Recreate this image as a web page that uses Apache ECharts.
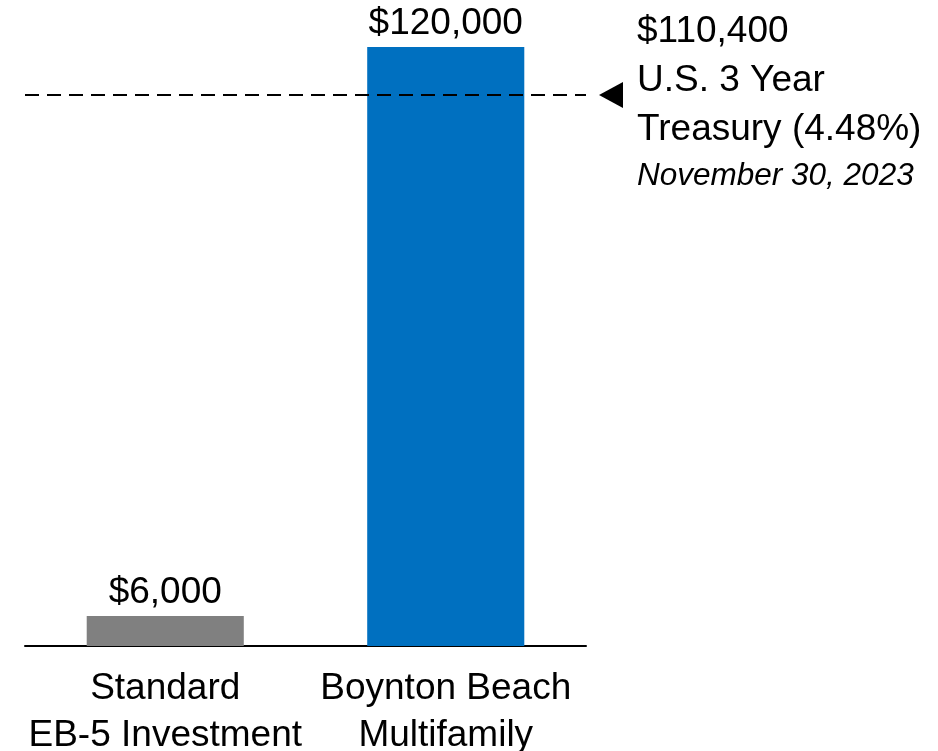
<!DOCTYPE html>
<html>
<head>
<meta charset="utf-8">
<script src="https://cdn.jsdelivr.net/npm/echarts@6/dist/echarts.min.js"></script>
<style>
  html, body { margin: 0; padding: 0; background: #fff; }
  #chart { width: 938px; height: 751px; }
</style>
</head>
<body>
<div id="chart"></div>
<script>
// categories and values
const categories = ["Standard\nEB-5 Investment", "Boynton Beach\nMultifamily"];
const values = [6000, 120000];
const barColors = ["#808080", "#0070C0"];
// treasury reference line
const treasuryValue = 110400;
const treasuryLines = ["U.S. 3 Year", "Treasury (4.48%)"];
const treasuryDate = "November 30, 2023";

const fmt = (v) => "$" + v.toLocaleString("en-US");

const chart = echarts.init(document.getElementById("chart"));
const option = {
  backgroundColor: "#fff",
  textStyle: { fontFamily: "Liberation Sans, Arial, sans-serif" },
  grid: { left: 25, right: 352, top: 47, bottom: 105, outerBoundsMode: "none" },
  xAxis: {
    type: "category",
    data: categories,
    axisTick: { show: false },
    axisLine: { lineStyle: { color: "#000", width: 2 } },
    axisLabel: { color: "#000", fontSize: 37, lineHeight: 47, margin: 19, interval: 0 },
  },
  yAxis: { type: "value", min: 0, max: 120000, show: false },
  series: [
    {
      type: "bar",
      barWidth: "56%",
      data: values.map((v, i) => ({ value: v, itemStyle: { color: barColors[i] } })),
      label: {
        show: true,
        position: "top",
        distance: 5,
        color: "#000",
        fontSize: 37,
        formatter: (p) => fmt(p.value),
      },
      markLine: {
        silent: true,
        symbol: ["none", "triangle"],
        symbolSize: [26, 24],
        symbolRotate: 90,
        // end symbol pushed right of the line end (offset is in rotated space)
        symbolOffset: [0, [0, 25]],
        lineStyle: { color: "#000", type: [14, 8], width: 2 },
        itemStyle: { color: "#000" },
        label: {
          position: "end",
          distance: 51,
          padding: [16, 0, 0, 0],
          formatter: () =>
            "{a|" + fmt(treasuryValue) + "}\n" +
            treasuryLines.map((t) => "{a|" + t + "}").join("\n") +
            "\n{b|" + treasuryDate + "}",
          rich: {
            a: { fontSize: 37, lineHeight: 49, color: "#000" },
            b: { fontSize: 31.5, lineHeight: 44, fontStyle: "italic", color: "#000" },
          },
        },
        data: [{ yAxis: treasuryValue }],
      },
    },
  ],
};
chart.setOption(option);
</script>
</body>
</html>
